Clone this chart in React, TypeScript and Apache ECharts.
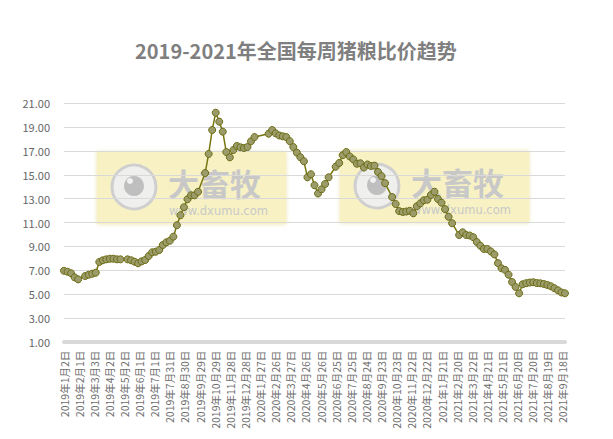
import React, { useEffect, useRef } from "react";
import * as echarts from "echarts";

const titleText = "2019-2021年全国每周猪粮比价趋势";

// week number counted from 2019-01-02 (weekly data, holidays missing)
const weekNo = [
  0, 1, 2, 3, 4, 6, 7, 8, 9, 10, 11, 12, 13, 14, 15, 16, 18, 19, 20, 21, 22, 23, 24, 25, 26, 27, 28, 29, 30, 31,
  32, 33, 34, 35, 36, 37, 38, 40, 41, 42, 43, 44, 45, 46, 47, 48, 49, 50, 51, 52, 53, 54, 58, 59, 60, 61, 62, 63,
  64, 65, 66, 67, 68, 69, 70, 71, 72, 73, 74, 75, 77, 78, 79, 80, 81, 82, 83, 84, 85, 86, 87, 88, 89, 90, 91, 93,
  94, 95, 96, 97, 98, 99, 100, 101, 102, 103, 104, 105, 106, 107, 108, 109, 110, 112, 113, 114, 115, 116, 117,
  118, 119, 120, 121, 122, 123, 124, 125, 126, 127, 128, 129, 130, 131, 132, 133, 134, 135, 136, 137, 138, 139,
  140, 141, 142,
];

const ratio = [
  6.95, 6.87, 6.74, 6.4, 6.23, 6.51, 6.62, 6.7, 6.79, 7.69, 7.83, 7.91, 7.96, 7.96, 7.91, 7.91, 7.91, 7.83, 7.71,
  7.58, 7.74, 7.85, 8.19, 8.5, 8.55, 8.69, 9.11, 9.34, 9.47, 9.81, 10.77, 11.61, 12.28, 12.95, 13.28, 13.28, 13.58,
  15.15, 16.75, 18.76, 20.21, 19.46, 18.62, 16.91, 16.47, 17.08, 17.42, 17.31, 17.25, 17.33, 17.81, 18.17, 18.45,
  18.76, 18.48, 18.3, 18.23, 18.17, 17.82, 17.33, 16.86, 16.48, 16.14, 14.79, 15.05, 14.13, 13.43, 13.79, 14.23,
  14.79, 15.68, 15.99, 16.65, 16.91, 16.54, 16.29, 15.93, 15.97, 15.61, 15.87, 15.74, 15.77, 15.24, 14.89, 14.3,
  13.14, 12.55, 11.96, 11.88, 11.92, 11.98, 11.77, 12.36, 12.61, 12.87, 12.91, 13.31, 13.58, 12.97, 12.66, 12.12,
  11.48, 10.94, 9.95, 10.18, 9.95, 9.91, 9.77, 9.36, 9.05, 8.78, 8.78, 8.57, 8.32, 7.59, 7.16, 7.03, 6.62, 6.01,
  5.59, 5.06, 5.82, 5.91, 5.96, 5.99, 5.92, 5.9, 5.84, 5.76, 5.65, 5.49, 5.31, 5.13, 5.06,
];

// x-axis tick labels, one every 30 days from 2019-01-02
const tickLabels = [
  "2019年1月2日", "2019年2月1日", "2019年3月3日", "2019年4月2日", "2019年5月2日", "2019年6月1日",
  "2019年7月1日", "2019年7月31日", "2019年8月30日", "2019年9月29日", "2019年10月29日", "2019年11月28日",
  "2019年12月28日", "2020年1月27日", "2020年2月26日", "2020年3月27日", "2020年4月26日", "2020年5月26日",
  "2020年6月25日", "2020年7月25日", "2020年8月24日", "2020年9月23日", "2020年10月23日", "2020年11月22日",
  "2020年12月22日", "2021年1月21日", "2021年2月20日", "2021年3月22日", "2021年4月21日", "2021年5月21日",
  "2021年6月20日", "2021年7月20日", "2021年8月19日", "2021年9月18日",
];

const yTicks = [1, 3, 5, 7, 9, 11, 13, 15, 17, 19, 21];

const FONT = "'Noto Sans CJK SC', 'Noto Sans', sans-serif";

function watermark(x0: number, y0: number) {
  return [
    {
      type: "rect",
      shape: { x: x0, y: y0, width: 189, height: 72 },
      style: { fill: "#f7f1c4", shadowBlur: 4, shadowColor: "rgba(230,220,150,0.8)" },
      z: 0,
      silent: true,
    },
    {
      type: "circle",
      shape: { cx: x0 + 37, cy: y0 + 35, r: 22 },
      style: { fill: "#efefee", stroke: "#cfcfcf", lineWidth: 3 },
      z: 0,
      silent: true,
    },
    {
      type: "circle",
      shape: { cx: x0 + 37, cy: y0 + 34, r: 10 },
      style: { fill: "#bfbfbf" },
      z: 0,
      silent: true,
    },
    {
      type: "circle",
      shape: { cx: x0 + 33, cy: y0 + 29, r: 3 },
      style: { fill: "#f2f2f2" },
      z: 0,
      silent: true,
    },
    {
      type: "text",
      x: x0 + 71,
      y: y0 + 30,
      style: {
        text: "大畜牧",
        font: `bold 31px ${FONT}`,
        fill: "#c8c8c8",
        verticalAlign: "middle",
      },
      z: 0,
      silent: true,
    },
    {
      type: "text",
      x: x0 + 72,
      y: y0 + 59,
      style: {
        text: "www.dxumu.com",
        font: "11.5px 'DejaVu Sans', sans-serif",
        fill: "#c9c9c9",
        verticalAlign: "middle",
      },
      z: 0,
      silent: true,
    },
  ];
}

export default function App() {
  const ref = useRef<HTMLDivElement>(null);

  useEffect(() => {
    document.body.style.margin = "0";
    if (!ref.current) return;
    const chart = echarts.init(ref.current, null, { renderer: "svg" });
    const data = weekNo.map((k, i) => [k * 7, ratio[i]]);
    const lastDay = weekNo[weekNo.length - 1] * 7;

    chart.setOption({
      animation: false,
      backgroundColor: "#ffffff",
      title: {
        text: titleText,
        left: 130,
        top: 35,
        textStyle: { fontFamily: FONT, fontSize: 20, fontWeight: "bold", color: "#7f7f7f" },
      },
      grid: { left: 64, right: 48, top: 103.3, bottom: 97.3, containLabel: false },
      graphic: [...watermark(97, 152), ...watermark(340, 151)],
      xAxis: {
        type: "value",
        min: 0,
        max: lastDay,
        interval: 30,
        axisLine: { show: true, lineStyle: { color: "#d9d9d9", width: 4 } },
        axisTick: { show: false },
        splitLine: { show: false },
        axisLabel: {
          rotate: 90,
          margin: 9,
          fontSize: 10.5,
          fontFamily: FONT,
          color: "#6e6e6e",
          showMaxLabel: true,
          formatter: (v: number) => {
            const idx = Math.round(v / 30);
            return Math.abs(v - idx * 30) < 0.01 && tickLabels[idx] ? tickLabels[idx] : "";
          },
        },
      },
      yAxis: {
        type: "value",
        min: yTicks[0],
        max: yTicks[yTicks.length - 1],
        interval: 2,
        axisLine: { show: false },
        axisTick: { show: false },
        splitLine: { lineStyle: { color: "#d9d9d9", width: 1 } },
        axisLabel: {
          margin: 14,
          fontSize: 11,
          fontFamily: FONT,
          color: "#666666",
          formatter: (v: number) => v.toFixed(2),
        },
      },
      series: [
        {
          type: "line",
          data,
          symbol: "circle",
          symbolSize: 7,
          z: 5,
          lineStyle: { color: "#76760f", width: 1.5 },
          itemStyle: { color: "#9c9c6a", borderColor: "#6c6c14", borderWidth: 1 },
        },
      ],
    });

    return () => chart.dispose();
  }, []);

  return <div ref={ref} style={{ width: 613, height: 439 }} />;
}
